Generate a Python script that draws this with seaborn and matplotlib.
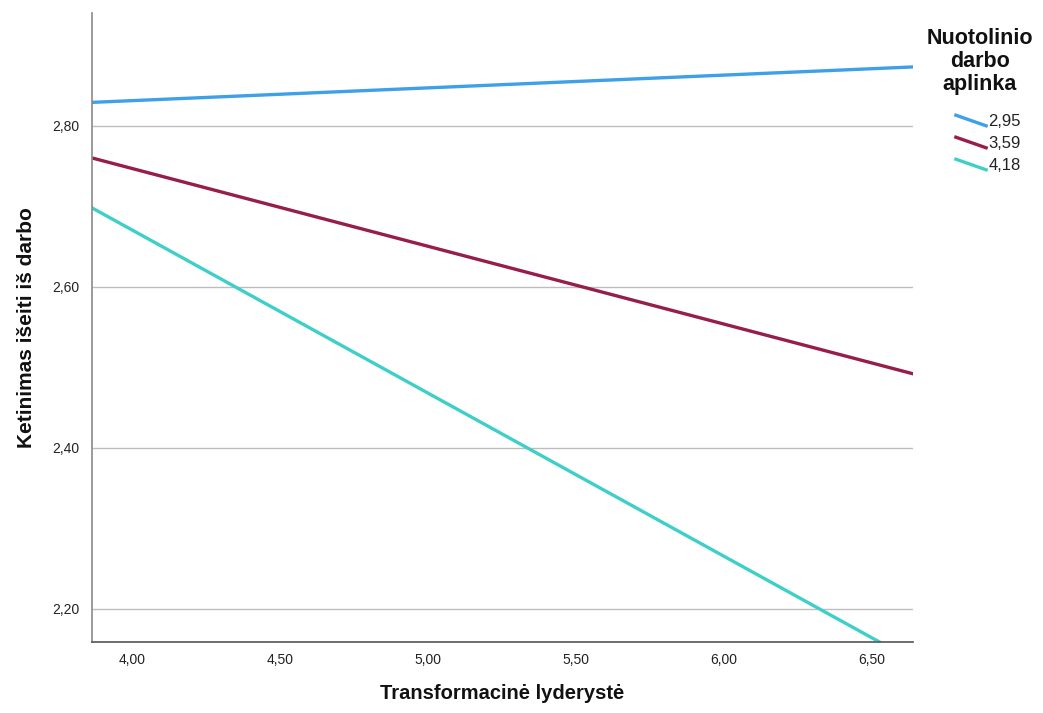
import numpy as np
import pandas as pd
import matplotlib
matplotlib.use("Agg")
import matplotlib.pyplot as plt
from matplotlib.lines import Line2D
from matplotlib.legend_handler import HandlerLine2D
import seaborn as sns

# Simple-slopes data: predicted outcome at the low and high end of the predictor
predictor_range = [3.865, 6.638]
moderator_levels = ["2,95", "3,59", "4,18"]
predicted_low = [2.829, 2.760, 2.698]
predicted_high = [2.873, 2.492, 2.136]

x_ticks = [4.0, 4.5, 5.0, 5.5, 6.0, 6.5]
x_tick_labels = ["4,00", "4,50", "5,00", "5,50", "6,00", "6,50"]
y_ticks = [2.2, 2.4, 2.6, 2.8]
y_tick_labels = ["2,20", "2,40", "2,60", "2,80"]

line_colors = ["#3DA0E8", "#971D4B", "#3ECFC8"]

rows = []
for level, lo, hi in zip(moderator_levels, predicted_low, predicted_high):
    rows.append({"x": predictor_range[0], "y": lo, "level": level})
    rows.append({"x": predictor_range[1], "y": hi, "level": level})
df = pd.DataFrame(rows)

sns.set_theme(style="white")
plt.rcParams["font.family"] = ["Liberation Sans", "DejaVu Sans"]

fig = plt.figure(figsize=(10.43, 7.13), dpi=100)
ax = fig.add_axes([0.0882, 0.0996, 0.8754 - 0.0882, 0.9818 - 0.0996])

sns.lineplot(data=df, x="x", y="y", hue="level", palette=line_colors,
             linewidth=2.4, ax=ax, legend=False)

ax.set_xlim(predictor_range[0], predictor_range[1])
ax.set_ylim(2.159, 2.940)

ax.set_xticks(x_ticks)
ax.set_xticklabels(x_tick_labels, fontsize=10, color="#222222")
ax.set_yticks(y_ticks)
ax.set_yticklabels(y_tick_labels, fontsize=10, color="#222222")
ax.tick_params(axis="x", length=0, pad=8)
ax.tick_params(axis="y", length=0, pad=9)

ax.grid(axis="y", color="#BDBDBD", linewidth=1.0)
ax.set_axisbelow(True)
for side in ["top", "right"]:
    ax.spines[side].set_visible(False)
ax.spines["left"].set_color("#8A8A8A")
ax.spines["left"].set_linewidth(1.2)
ax.spines["bottom"].set_color("#555555")
ax.spines["bottom"].set_linewidth(1.2)

ax.set_xlabel("Transformacinė lyderystė", fontsize=14.5, fontweight="bold",
              labelpad=12, color="#111111")
ax.set_ylabel("Ketinimas išeiti iš darbo", fontsize=15, fontweight="bold",
              labelpad=12, color="#111111")


class DiagonalLineHandler(HandlerLine2D):
    def create_artists(self, legend, orig_handle, xdescent, ydescent,
                       width, height, fontsize, trans):
        line = Line2D([-xdescent, width - xdescent],
                      [height * 1.0 - ydescent, height * 0.0 - ydescent],
                      color=orig_handle.get_color(),
                      linewidth=orig_handle.get_linewidth(),
                      solid_capstyle="butt")
        line.set_transform(trans)
        return [line]


# Legend title, centred above the entries
fig.text(980 / 1043, 1 - 28 / 713, "Nuotolinio\ndarbo\naplinka",
         ha="center", va="top", fontsize=15.5, fontweight="bold",
         linespacing=1.12, color="#111111")

handles = [Line2D([], [], color=c, linewidth=2.4) for c in line_colors]
leg = fig.legend(handles, moderator_levels,
                 loc="upper left", bbox_to_anchor=(946 / 1043, 1 - 106 / 713),
                 frameon=False, fontsize=12, borderpad=0,
                 handler_map={Line2D: DiagonalLineHandler()},
                 handlelength=2.0, handleheight=0.7, handletextpad=0.05,
                 labelspacing=0.42)
for t in leg.get_texts():
    t.set_color("#222222")

fig.savefig("out.png", dpi=100)
